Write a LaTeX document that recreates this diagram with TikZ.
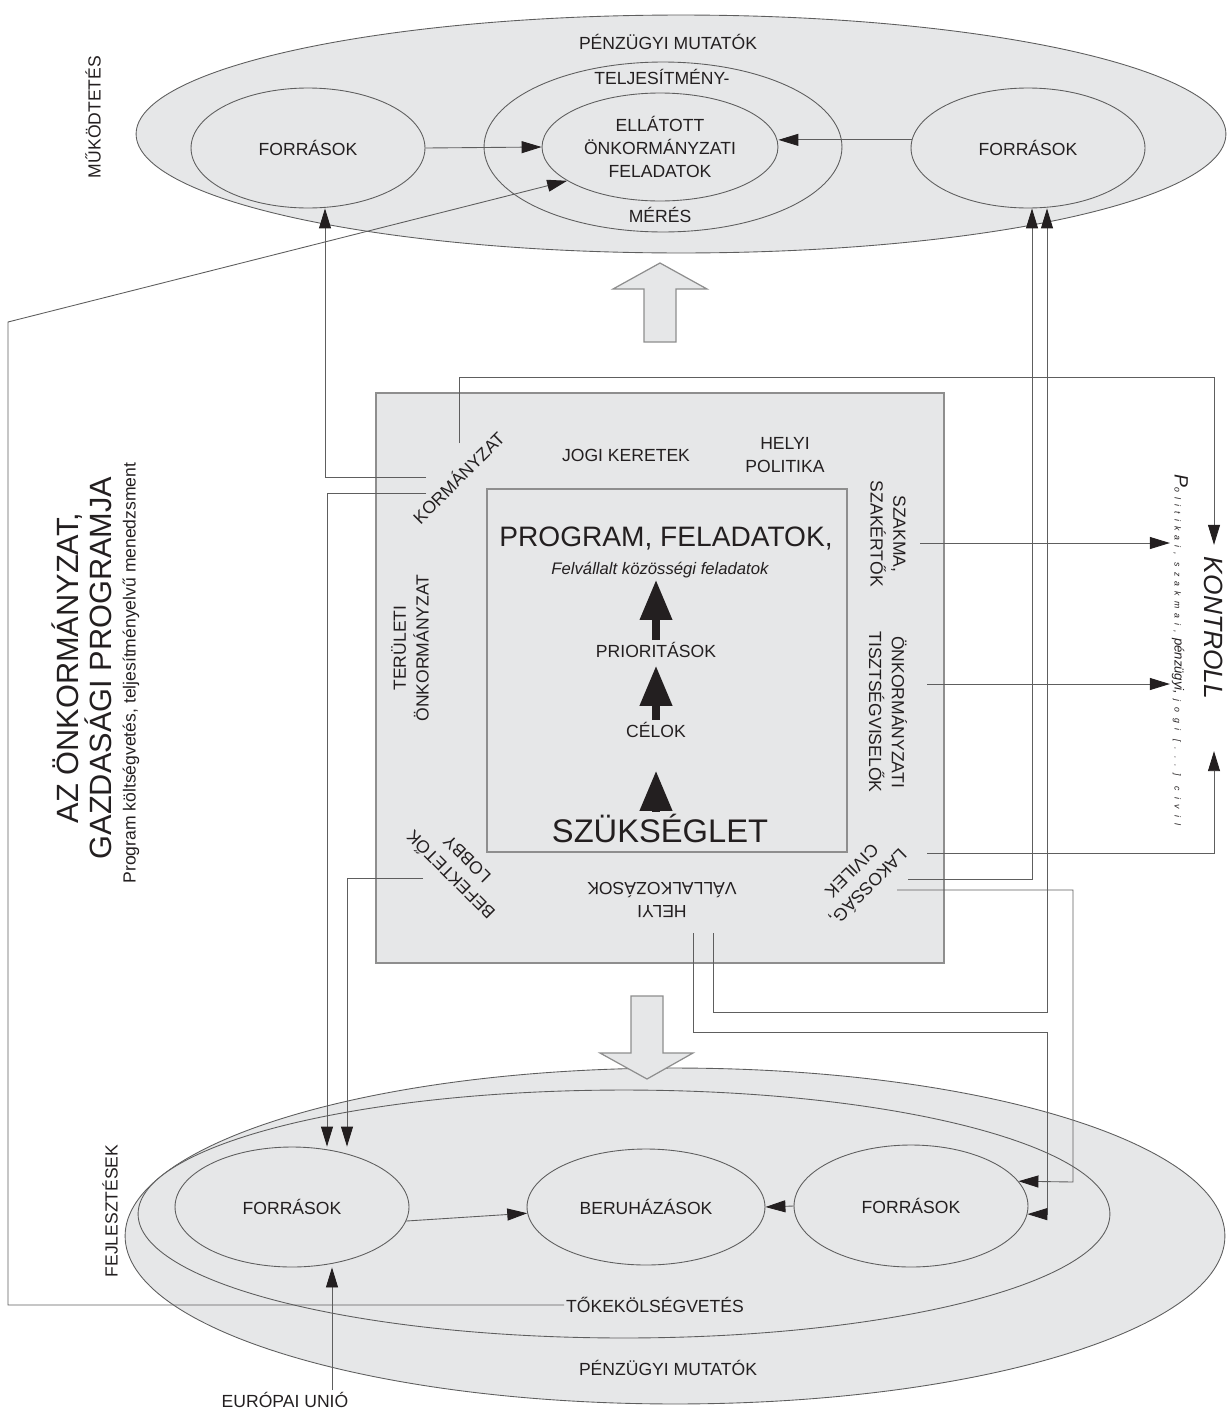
\documentclass[tikz,border=0pt]{standalone}
\usepackage{fontspec}
\setmainfont{Liberation Sans}
\usepackage{tikz}
\usetikzlibrary{shapes.geometric, arrows.meta, positioning, calc}
\definecolor{panel}{HTML}{E6E7E8}
\definecolor{rim}{HTML}{5E5E5E}
\definecolor{boxrim}{HTML}{8E8E8E}
\definecolor{ink}{HTML}{231F20}
\newcommand{\lbl}{\fontsize{10}{13}\selectfont}

\begin{document}
\begin{tikzpicture}[x=0.02cm, y=-0.02cm,
    oval/.style={ellipse, draw=rim, fill=panel, line width=0.5pt, inner sep=0pt, align=center, font=\lbl, text=ink},
    frame/.style={rectangle, draw=boxrim, fill=panel, line width=0.9pt, inner sep=0pt},
    lab/.style={align=center, inner sep=1pt, font=\lbl, text=ink},
    arr/.style={draw=rim, line width=0.5pt, -{Triangle[length=0.4cm, width=0.24cm, color=ink]}},
    bigarr/.style={draw=ink, line width=4pt, -{Triangle[length=0.8cm, width=0.62cm]}},
    fat/.style={draw=boxrim, fill=panel, line width=0.7pt},
  ]
  \useasboundingbox (0,0) rectangle (1227,1410);

  % Mukodtetes (top)
  \node[oval, minimum width=21.8cm, minimum height=4.76cm] (optop) at (681,134) {};
  \node[lab] (fin1) at (668,42) {PÉNZÜGYI MUTATÓK};
  \node[lab, rotate=90] (mukod) at (93,117) {MŰKÖDTETÉS};
  \node[oval, minimum width=4.68cm, minimum height=2.4cm] (ftl) at (308,148) {FORRÁSOK};
  \node[oval, minimum width=7.16cm, minimum height=3.4cm] (telj) at (663,147) {};
  \node[lab] (tlab) at (662,77) {TELJESÍTMÉNY-};
  \node[lab] (mlab) at (660,215) {MÉRÉS};
  \node[oval, minimum width=4.72cm, minimum height=2.16cm] (feladat) at (660,147) {ELLÁTOTT\\ÖNKORMÁNYZATI\\FELADATOK};
  \node[oval, minimum width=4.68cm, minimum height=2.4cm] (ftr) at (1028,148) {FORRÁSOK};

  \draw[fat] (644,342) -- (644,289) -- (613,289) -- (660,263) -- (707,289) -- (676,289) -- (676,342) -- cycle;

  % Program box
  \node[frame, minimum width=11.36cm, minimum height=11.4cm] (kozeg) at (660,678) {};
  \node[frame, minimum width=7.2cm, minimum height=7.26cm] (prog) at (667,670.5) {};
  \node[lab, rotate=45] (korm) at (458,477) {KORMÁNYZAT};
  \node[lab] (jogi) at (626,455) {JOGI KERETEK};
  \node[lab] (hpol) at (785,455) {HELYI\\POLITIKA};
  \node[lab, rotate=-90] (szakma) at (888,534) {SZAKMA,\\SZAKÉRTŐK};
  \node[lab, rotate=-90] (tiszt) at (888,712) {ÖNKORMÁNYZATI\\TISZTSÉGVISELŐK};
  \node[lab, rotate=225] (lakos) at (861,880) {LAKOSSÁG,\\CIVILEK};
  \node[lab, rotate=180] (helyi) at (662,900) {HELYI\\VÁLLALKOZÁSOK};
  \node[lab, rotate=135] (befek) at (458,868) {BEFEKTETŐK\\LOBBY};
  \node[lab, rotate=90] (terul) at (410,648) {TERÜLETI\\ÖNKORMÁNYZAT};

  \node[lab, font=\fontsize{16}{18}\selectfont] (progt) at (666,538) {PROGRAM, FELADATOK,};
  \node[lab, font=\fontsize{9.5}{11}\selectfont\itshape] (felv) at (660,570) {Felvállalt közösségi feladatok};
  \node[lab] (prior) at (656,650) {PRIORITÁSOK};
  \node[lab] (celok) at (656,730) {CÉLOK};
  \node[lab, font=\fontsize{18.6}{20}\selectfont] (szuks) at (660,828) {SZÜKSÉGLET};
  \draw[bigarr] (prior.north) -- (prior.north |- felv.south);
  \draw[bigarr, shorten >=0.12cm] (celok.north) -- (celok.north |- prior.south);
  \draw[bigarr, shorten >=0.62cm] (celok.south |- szuks.north) -- (celok.south);

  % Fejlesztesek (bottom)
  \node[oval, minimum width=22cm, minimum height=6.72cm] (opbot) at (675,1236) {};
  \draw[fat] (631,996) -- (663,996) -- (663,1053) -- (693,1053) -- (647,1079) -- (600,1053) -- (631,1053) -- cycle;
  \node[oval, minimum width=19.44cm, minimum height=4.96cm] (tokek) at (624,1214) {};
  \node[oval, minimum width=4.68cm, minimum height=2.4cm] (fbl) at (292,1207) {FORRÁSOK};
  \node[oval, minimum width=4.76cm, minimum height=2.32cm] (beruh) at (646,1207) {BERUHÁZÁSOK};
  \node[oval, minimum width=4.68cm, minimum height=2.44cm] (fbr) at (911,1206) {FORRÁSOK};
  \node[lab] (tkv) at (655,1305) {TŐKEKÖLSÉGVETÉS};
  \node[lab] (fin2) at (668,1368) {PÉNZÜGYI MUTATÓK};
  \node[lab, rotate=90] (fejl) at (110,1211) {FEJLESZTÉSEK};
  \node[lab] (eu) at (285,1400) {EURÓPAI UNIÓ};

  % Title and control
  \node[lab, rotate=90, font=\fontsize{17.5}{18.5}\selectfont] (cim) at (82,668) {AZ ÖNKORMÁNYZAT,\\GAZDASÁGI PROGRAMJA};
  \node[lab, rotate=90] (cimsub) at (131,673) {Program költségvetés, teljesítményelvű menedzsment};
  \node[lab, rotate=-90, font=\fontsize{15}{16}\selectfont\itshape] (kontroll) at (1214,628) {KONTROLL};
  \node[lab, rotate=-90, font=\itshape] (kontsub) at (1180,650) {{\fontsize{11}{12}\selectfont P}{\fontsize{5}{6}\selectfont\addfontfeatures{LetterSpace=58}olitikai, szakmai,} {\fontsize{7.5}{9}\selectfont pénzügyi,} {\fontsize{5}{6}\selectfont\addfontfeatures{LetterSpace=68}jogi [...] civil}};

  % Connectors
  \coordinate (k1) at (426,477);
  \coordinate (k2) at (426,493);
  \coordinate (k3) at (459,443);
  \coordinate (b1) at (423,878);
  \coordinate (s1) at (920,543);
  \coordinate (t1) at (927,684);
  \coordinate (l1) at (927,853);
  \coordinate (l2) at (908,879);
  \coordinate (l3) at (897,890);
  \coordinate (h1) at (713,933);
  \coordinate (h2) at (693,933);

  \draw[arr] (ftl.east) -- (feladat.west);
  \draw[arr] (ftr.176) -- (ftr.176 -| feladat.east);
  \draw[arr] (fbl.-7) -- (beruh.183);
  \draw[arr] (fbr.west) -- (beruh.east);

  \draw[arr] (k1) -| (325,0 |- ftl.south);
  \draw[arr] (k2) -| (327,0 |- fbl.north);
  \draw[arr, shorten >=0.2cm] (k3) |- (1214,377) -- (kontroll.west);
  \draw[arr] (b1) -| (347,0 |- fbl.north);
  \draw[arr] (s1) -- (s1 -| kontsub.south);
  \draw[arr] (t1) -- (t1 -| kontsub.south);
  \draw[arr] (l1) -| ($(kontroll.east)+(0,50)$);
  \draw[arr] (l2) -| (1032,0 |- ftr.south);
  \draw[arr] (l3) -| (1073,1182) -- (fbr.13);
  \draw[arr] (h1) |- (1047,1012) -- (1047,0 |- ftr.south);
  \draw[arr] (h2) |- (1047,1032) |- (fbr.-4);
  \draw[arr] (eu.north -| 332,0) -- (332,0 |- fbl.south);
  \draw[arr] (tkv.west) -| (8,322) -- (feladat.200);
\end{tikzpicture}
\end{document}
